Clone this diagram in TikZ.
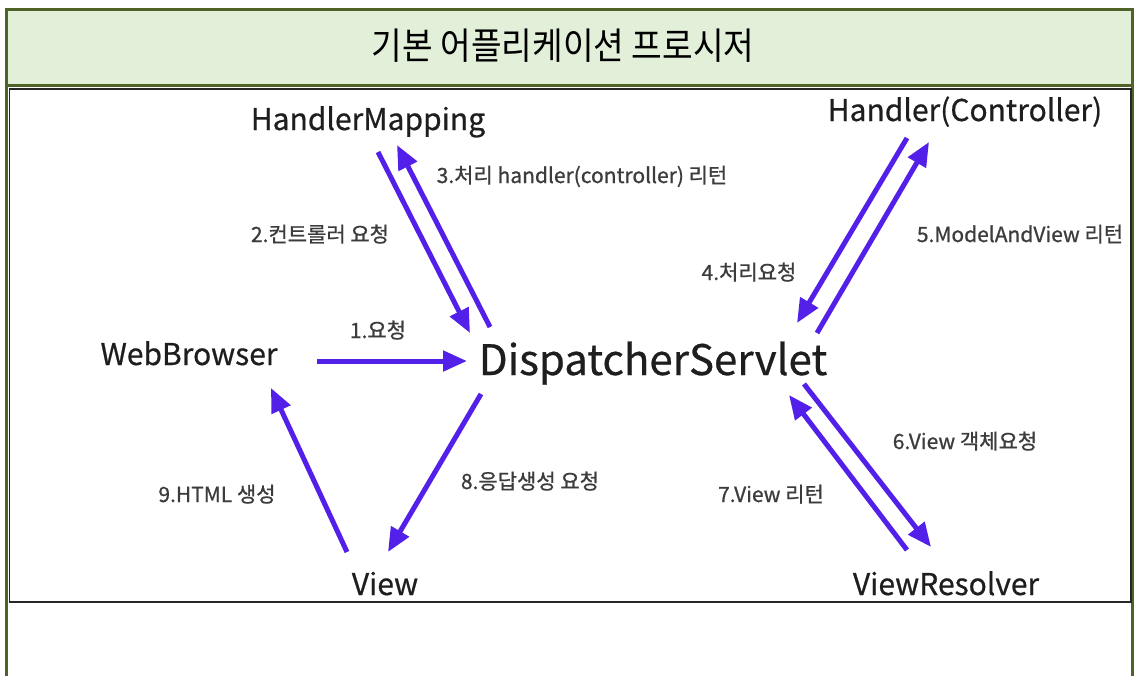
\documentclass[tikz,border=0pt]{standalone}
\usepackage{fontspec}
\setmainfont{Noto Sans CJK KR}
\newfontfamily\heavyfont{Noto Sans CJK KR}[FakeBold=0.6]
\newfontfamily\lblfont{Noto Sans CJK KR}[FakeBold=0.8]
\usetikzlibrary{arrows.meta}
\definecolor{hdrfill}{RGB}{226,239,217}
\definecolor{hdrline}{RGB}{79,98,40}
\definecolor{arrc}{RGB}{82,32,232}
\definecolor{lbl}{RGB}{60,60,60}
\definecolor{nodetxt}{RGB}{30,30,30}
\begin{document}
\begin{tikzpicture}[x=1pt,y=-1pt,
  arr/.style={line width=5pt, draw=arrc, -{Triangle[length=24pt,width=20pt]}},
  nodelbl/.style={font=\heavyfont\fontsize{30}{36}\selectfont, text=nodetxt, inner sep=0pt, anchor=base},
  steplbl/.style={font=\lblfont\fontsize{21}{25}\selectfont, text=lbl, inner sep=0pt, anchor=base}]
\useasboundingbox (0,0) rectangle (1134,675);
% outer frame
\draw[hdrline, line width=3pt] (6.5,676) -- (6.5,9) -- (1132.5,9) -- (1132.5,676);
\path[fill=hdrfill, draw=hdrline, line width=3pt] (6.5,9) rectangle (1132.5,85);
\node[font=\fontsize{37}{44}\selectfont, inner sep=0pt, anchor=base] (title) at (563,59) {\scalebox{0.9}[1]{기본 어플리케이션 프로시저}};
% picture frame
\draw[black!85, line width=1.5pt, fill=white] (9.5,89) rectangle (1131,602);
% nodes
\node[nodelbl] (hm) at (368,130) {HandlerMapping};
\node[nodelbl] (hc) at (965,121) {Handler(Controller)};
\node[nodelbl] (wb) at (189,365) {WebBrowser};
\node[nodelbl, font=\heavyfont\fontsize{42}{50}\selectfont] (ds) at (653,375) {DispatcherServlet};
\node[nodelbl] (vw) at (385,595) {View};
\node[nodelbl] (vr) at (946,595) {ViewResolver};
% arrow end points
\coordinate (a1s) at (317,361); \coordinate (a1e) at (467,361);
\coordinate (a2s) at (378,152); \coordinate (a2e) at (470,333);
\coordinate (a3s) at (490,327); \coordinate (a3e) at (397,145);
\coordinate (a4s) at (907,138); \coordinate (a4e) at (797,323);
\coordinate (a5s) at (817,333); \coordinate (a5e) at (929,142);
\coordinate (a6s) at (804,384); \coordinate (a6e) at (931,547);
\coordinate (a7s) at (907,550); \coordinate (a7e) at (789,395);
\coordinate (a8s) at (481,394); \coordinate (a8e) at (388,552);
\coordinate (a9s) at (347,552); \coordinate (a9e) at (271,388);
\foreach \i in {1,...,9} {\draw[arr] (a\i s) -- (a\i e);}
% step labels
\node[steplbl] (l1) at (378,338) {1.요청};
\node[steplbl] (l2) at (320,242) {2.컨트롤러 요청};
\node[steplbl] (l3) at (582,183) {3.처리 handler(controller) 리턴};
\node[steplbl] (l4) at (749,280) {4.처리요청};
\node[steplbl] (l5) at (1020,242) {5.ModelAndView 리턴};
\node[steplbl] (l6) at (965,449) {6.View 객체요청};
\node[steplbl] (l7) at (771,502) {7.View 리턴};
\node[steplbl] (l8) at (530,489) {8.응답생성 요청};
\node[steplbl] (l9) at (217,502) {9.HTML 생성};
\end{tikzpicture}
\end{document}
